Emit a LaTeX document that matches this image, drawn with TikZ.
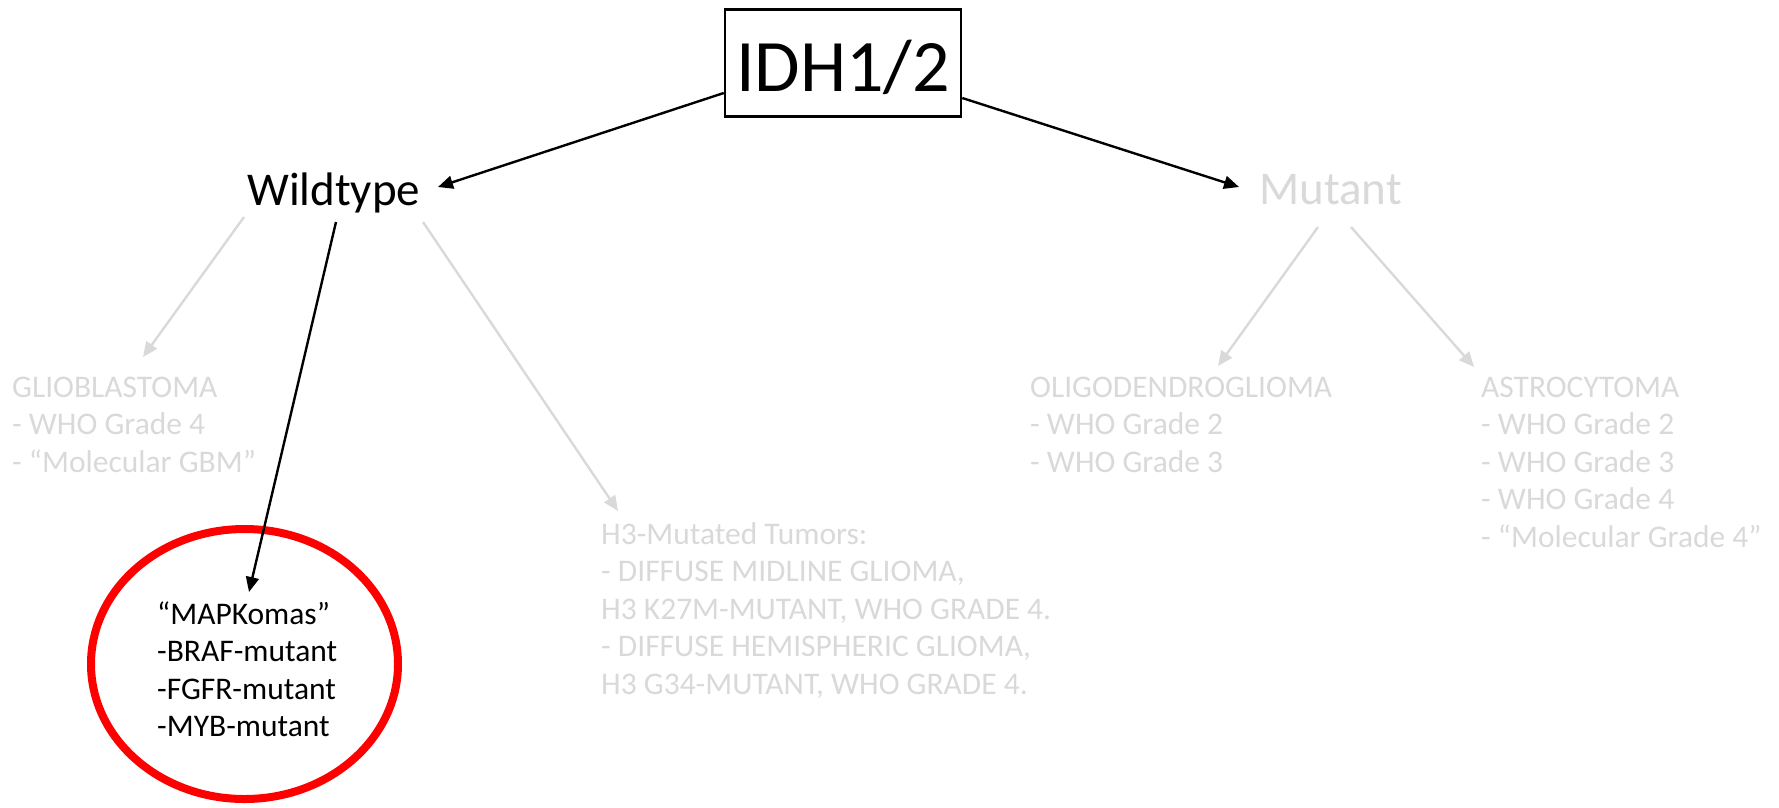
\documentclass[tikz,border=0pt]{standalone}
\usepackage{fontspec}
\setmainfont{Carlito}
\usetikzlibrary{arrows.meta,shapes.geometric}
\definecolor{faded}{HTML}{D9D9D9}
\definecolor{ringred}{HTML}{FF0000}
\newcommand{\blocklines}[1]{\begin{tabular}[t]{@{}l@{}}#1\end{tabular}}
\begin{document}
\begin{tikzpicture}[x=1pt,y=-1pt,
  faint/.style={text=faded},
  txt/.style={anchor=base west, inner sep=0pt, font=\fontsize{31.5}{37.5}\selectfont},
  head/.style={anchor=base west, inner sep=0pt, font=\fontsize{47}{56}\selectfont},
  link/.style={line width=2.4pt, -{Triangle[length=15pt,width=13pt]}},
  dark/.style={link, draw=black},
  pale/.style={link, draw=faded}]

\useasboundingbox (0,0) rectangle (1779,807);

% root gene box
\node[draw, line width=2.5pt, minimum width=236pt, minimum height=107pt,
      inner sep=0pt, text height=56pt, text depth=0pt,
      font=\fontsize{74}{80}\selectfont] (idh) at (843,63) {IDH1/2};

% status labels
\node[head] (wt) at (247,205) {Wildtype};
\node[head, faint] (mt) at (1259,204) {Mutant};

% tumour groups
\node[txt, faint] (glio) at (12,397) {\blocklines{GLIOBLASTOMA\\- WHO Grade 4\\- “Molecular GBM”}};
\node[txt, faint] (h3) at (601,544) {\blocklines{H3-Mutated Tumors:\\- DIFFUSE MIDLINE GLIOMA,\\H3 K27M-MUTANT, WHO GRADE 4.\\- DIFFUSE HEMISPHERIC GLIOMA,\\H3 G34-MUTANT, WHO GRADE 4.}};
\node[txt, faint] (oligo) at (1030,397) {\blocklines{OLIGODENDROGLIOMA\\- WHO Grade 2\\- WHO Grade 3}};
\node[txt, faint] (astro) at (1481,397) {\blocklines{ASTROCYTOMA\\- WHO Grade 2\\- WHO Grade 3\\- WHO Grade 4\\- “Molecular Grade 4”}};

% highlighted group
\node[ellipse, draw=ringred, line width=8pt, minimum width=307pt,
      minimum height=270pt, inner sep=0pt] (ring) at (244.5,664) {};
\node[txt] (map) at (157,624) {\blocklines{“MAPKomas”\\-BRAF-mutant\\-FGFR-mutant\\-MYB-mutant}};

% connectors
\draw[dark] ([yshift=-30pt]idh.west) -- ([xshift=191pt,yshift=18pt]wt.base west);
\draw[dark] ([yshift=-35pt]idh.east) -- ([xshift=-20pt,yshift=17pt]mt.base west);
\draw[pale] ([xshift=-3pt,yshift=-12pt]wt.base west) -- ([xshift=131pt,yshift=40pt]glio.base west);
\draw[dark] ([xshift=89pt,yshift=-17pt]wt.base west) -- ([xshift=92pt,yshift=32pt]map.base west);
\draw[pale] ([xshift=176pt,yshift=-17pt]wt.base west) -- ([xshift=17pt,yshift=33pt]h3.base west);
\draw[pale] ([xshift=59pt,yshift=-23pt]mt.base west) -- ([xshift=188pt,yshift=31pt]oligo.base west);
\draw[pale] ([xshift=92pt,yshift=-23pt]mt.base west) -- ([xshift=-7pt,yshift=30pt]astro.base west);
\end{tikzpicture}
\end{document}
